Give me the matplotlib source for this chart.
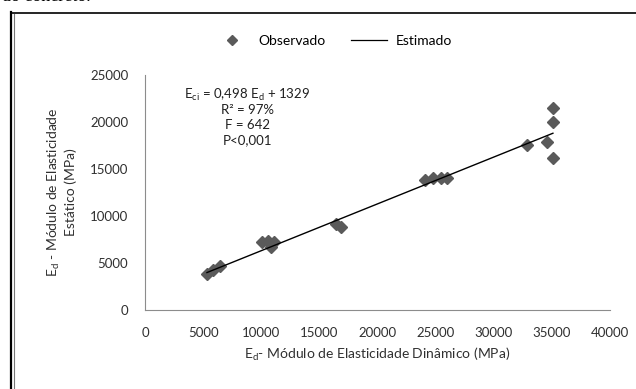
import matplotlib
matplotlib.use("Agg")
import matplotlib.pyplot as plt
from matplotlib.lines import Line2D
import numpy as np

# Observed points (E_d dynamic, E_ci static), MPa
ed_obs = [5330, 5850, 6450, 10060, 10580, 11090, 10800, 16400, 16900,
          24080, 24770, 25460, 25970, 35090, 35090, 34570, 35090, 32850]
ec_obs = [3830, 4260, 4680, 7240, 7300, 7240, 6700, 9200, 8800,
          13830, 14040, 14040, 14040, 21490, 20000, 17870, 16170, 17550]

# fitted model  Eci = 0.498 Ed + 1329
slope, intercept = 0.498, 1329
fit_x = [min(ed_obs), max(ed_obs)]

x_ticks = [0, 5000, 10000, 15000, 20000, 25000, 30000, 35000, 40000]
y_ticks = [0, 5000, 10000, 15000, 20000, 25000]

stats_lines = [r"E$_{ci}$ = 0,498 E$_{d}$ + 1329", "R² = 97%", "F = 642", "P<0,001"]

plt.rcParams["font.family"] = ["Lato", "DejaVu Sans"]
plt.rcParams["mathtext.default"] = "regular"

W, H = 636, 389
fig = plt.figure(figsize=(W / 100, H / 100), dpi=100)
ax = fig.add_axes([145 / W, 1 - 310 / H, 465 / W, 235 / H])

ax.plot(ed_obs, ec_obs, ls="none", marker="D", ms=6.5, color="#5a5a5a", zorder=3)
fx = np.array(fit_x, dtype=float)
ax.plot(fx, slope * fx + intercept, color="black", lw=1.0, zorder=4)

ax.set_xlim(0, 40000)
ax.set_ylim(0, 25000)
ax.set_xticks(x_ticks)
ax.set_yticks(y_ticks)
ax.tick_params(length=0, labelsize=9.5, colors="#303030")
ax.tick_params(axis="y", pad=12)
ax.tick_params(axis="x", pad=12)
for s in ["top", "right"]:
    ax.spines[s].set_visible(False)
for s in ["left", "bottom"]:
    ax.spines[s].set_color("#8c8c8c")
    ax.spines[s].set_linewidth(0.8)

ax.set_xlabel(r"E$_{d}$- Módulo de Elasticidade Dinâmico (MPa)", fontsize=10, color="#303030", labelpad=5)
ax.set_ylabel("E$_{d}$ - Módulo de Elasticidade\nEstático (MPa)", fontsize=10, color="#303030",
              labelpad=9, linespacing=1.3)

for i, t in enumerate(stats_lines):
    fig.text(247 / W, 1 - (95 + 15 * i) / H, t, ha="center", va="center", fontsize=9.5, color="#202020")

handles = [Line2D([], [], ls="none", marker="D", ms=5, color="#5a5a5a"),
           Line2D([], [], color="black", lw=0.9)]
fig.legend(handles, ["Observado", "Estimado"], loc="center", bbox_to_anchor=(333 / W, 1 - 41 / H),
           ncol=2, frameon=False, fontsize=10, handlelength=2.6, handletextpad=0.6, columnspacing=1.8)

# page frame and cut-off caption of the source page
fig.add_artist(Line2D([11 / W, 11 / W], [0, 1 - 12 / H], transform=fig.transFigure, color="black", lw=1.6))
fig.add_artist(Line2D([14 / W, 14 / W], [0, 1 - 14 / H], transform=fig.transFigure, color="#777777", lw=0.8))
fig.add_artist(Line2D([11 / W, 1], [1 - 13 / H, 1 - 13 / H], transform=fig.transFigure, color="black", lw=1.2))
fig.text(2 / W, 1 - 1 / H, "do concreto.", family="Liberation Serif", fontsize=13, va="baseline")

fig.savefig("out.png", dpi=100, facecolor="white")
